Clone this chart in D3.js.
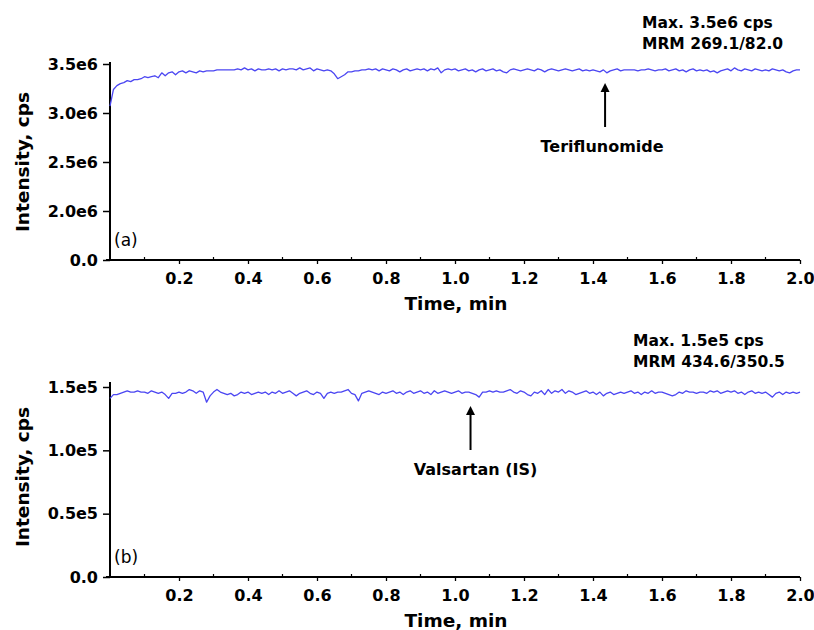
<!DOCTYPE html>
<html>
<head>
<meta charset="utf-8">
<script src="https://cdn.jsdelivr.net/npm/d3@7"></script>
<style>
  body { margin: 0; background: #fff; }
  svg { display: block; }
  text { font-family: "DejaVu Sans", Verdana, sans-serif; }
</style>
</head>
<body>
<svg id="chart" width="814" height="630"></svg>
<script>
// ---------------- DATA ----------------
// Sampling grid (min): 0.00 .. 2.00 every 0.01 min
const sampleTimes = d3.range(201).map(i => i / 100);

// Panel (a): Teriflunomide, MRM 269.1/82.0, intensity in units of 1e6 cps
const intensityA = [
  3.07,3.24,3.28,3.30,3.31,3.33,3.32,3.34,3.34,3.35,
  3.37,3.36,3.37,3.38,3.36,3.41,3.38,3.41,3.42,3.39,
  3.42,3.43,3.41,3.43,3.42,3.41,3.43,3.42,3.43,3.43,
  3.43,3.44,3.44,3.44,3.44,3.44,3.44,3.45,3.44,3.46,
  3.44,3.45,3.43,3.45,3.44,3.44,3.45,3.44,3.45,3.43,
  3.45,3.44,3.45,3.45,3.44,3.46,3.44,3.45,3.46,3.43,
  3.45,3.44,3.43,3.44,3.43,3.40,3.35,3.37,3.39,3.42,
  3.42,3.43,3.43,3.44,3.44,3.45,3.44,3.45,3.43,3.45,
  3.44,3.43,3.45,3.44,3.42,3.44,3.45,3.43,3.44,3.45,
  3.44,3.45,3.43,3.45,3.44,3.46,3.41,3.44,3.45,3.44,
  3.45,3.43,3.44,3.45,3.43,3.44,3.42,3.44,3.45,3.43,
  3.44,3.45,3.43,3.44,3.42,3.41,3.44,3.45,3.44,3.43,
  3.44,3.45,3.44,3.43,3.45,3.44,3.42,3.44,3.45,3.44,
  3.43,3.44,3.45,3.44,3.43,3.44,3.45,3.43,3.44,3.43,
  3.44,3.43,3.42,3.44,3.41,3.43,3.44,3.45,3.43,3.44,
  3.44,3.44,3.44,3.43,3.44,3.44,3.45,3.44,3.43,3.44,
  3.44,3.45,3.43,3.44,3.45,3.43,3.44,3.42,3.44,3.45,
  3.43,3.44,3.43,3.44,3.42,3.43,3.41,3.43,3.44,3.45,
  3.43,3.46,3.44,3.43,3.45,3.44,3.43,3.45,3.44,3.43,
  3.44,3.43,3.45,3.44,3.43,3.44,3.42,3.41,3.43,3.44,
  3.44
];

// Panel (b): Valsartan (IS), MRM 434.6/350.5, intensity in units of 1e5 cps
const intensityB = [
  1.41,1.44,1.44,1.45,1.46,1.47,1.46,1.46,1.47,1.46,
  1.46,1.45,1.47,1.46,1.45,1.46,1.44,1.41,1.45,1.45,
  1.46,1.45,1.46,1.48,1.47,1.45,1.47,1.46,1.38,1.43,
  1.46,1.48,1.46,1.45,1.44,1.45,1.43,1.44,1.46,1.45,
  1.46,1.44,1.45,1.46,1.45,1.46,1.44,1.46,1.45,1.47,
  1.45,1.46,1.47,1.45,1.43,1.45,1.46,1.47,1.45,1.44,
  1.46,1.45,1.41,1.45,1.46,1.45,1.46,1.46,1.47,1.48,
  1.45,1.44,1.39,1.45,1.46,1.47,1.46,1.45,1.44,1.46,
  1.45,1.46,1.47,1.45,1.46,1.44,1.46,1.47,1.45,1.46,
  1.47,1.45,1.46,1.44,1.47,1.45,1.46,1.47,1.46,1.45,
  1.46,1.47,1.45,1.46,1.46,1.45,1.44,1.42,1.46,1.46,
  1.47,1.46,1.47,1.46,1.46,1.47,1.48,1.46,1.45,1.47,
  1.46,1.44,1.43,1.46,1.45,1.47,1.44,1.48,1.45,1.47,
  1.46,1.48,1.45,1.47,1.46,1.44,1.45,1.46,1.47,1.45,
  1.46,1.44,1.46,1.43,1.45,1.46,1.44,1.45,1.46,1.45,
  1.46,1.47,1.45,1.46,1.44,1.46,1.45,1.47,1.45,1.46,
  1.46,1.45,1.44,1.43,1.44,1.46,1.45,1.47,1.46,1.46,
  1.45,1.46,1.46,1.45,1.47,1.46,1.47,1.45,1.46,1.47,
  1.46,1.47,1.45,1.46,1.44,1.46,1.47,1.45,1.46,1.45,
  1.46,1.44,1.42,1.45,1.46,1.44,1.46,1.45,1.46,1.45,
  1.46
];

// Tick values and labels
const xTickValues = [0.2,0.4,0.6,0.8,1.0,1.2,1.4,1.6,1.8,2.0];
const xTickLabels = ["0.2","0.4","0.6","0.8","1.0","1.2","1.4","1.6","1.8","2.0"];
const xMinorTicks = [0.1,0.3,0.5,0.7,0.9,1.1,1.3,1.5,1.7,1.9];

const yTickValuesA = [0, 2.0, 2.5, 3.0, 3.5];
const yTickLabelsA = ["0.0","2.0e6","2.5e6","3.0e6","3.5e6"];
const yTickValuesB = [0, 0.5, 1.0, 1.5];
const yTickLabelsB = ["0.0","0.5e5","1.0e5","1.5e5"];

const panelA = { tag: "(a)", compound: "Teriflunomide", arrowTime: 1.435,
                 maxText: "Max. 3.5e6 cps", mrmText: "MRM 269.1/82.0" };
const panelB = { tag: "(b)", compound: "Valsartan (IS)", arrowTime: 1.045,
                 maxText: "Max. 1.5e5 cps", mrmText: "MRM 434.6/350.5" };

// ---------------- DRAW ----------------
const svg = d3.select("#chart");
const lineColor = "#4b46f2";
const x0 = 110, x1 = 800;

function drawPanel(cfg) {
  const g = svg.append("g");
  const x = d3.scaleLinear().domain([0, 2]).range([x0, x1]);
  const y = cfg.y;

  // x axis
  const xAxis = d3.axisBottom(x)
    .tickValues(xTickValues)
    .tickFormat((d, i) => xTickLabels[i])
    .tickSize(4).tickSizeOuter(0).tickPadding(9);
  const gx = g.append("g").attr("transform", `translate(0,${cfg.baseY})`).call(xAxis);
  gx.select(".domain").remove();
  gx.append("line").attr("x1", x0 - 4).attr("x2", x1).attr("y1", 0).attr("y2", 0)
    .attr("stroke", "#000").attr("stroke-width", 2);
  gx.selectAll(".tick line").attr("stroke", "#000").attr("stroke-width", 1.3);
  gx.selectAll(".tick text").attr("fill", "#000")
    .style("font-size", "16px").style("font-weight", "bold");
  gx.selectAll(".minor").data(xMinorTicks).enter().append("line")
    .attr("x1", d => x(d)).attr("x2", d => x(d))
    .attr("y1", -3).attr("y2", 0)
    .attr("stroke", "#000").attr("stroke-width", 1.2);

  // y axis
  const yAxis = d3.axisLeft(y)
    .tickValues(cfg.yTicks)
    .tickFormat((d, i) => cfg.yLabels[i])
    .tickSize(7).tickSizeOuter(0).tickPadding(5);
  const gy = g.append("g").attr("transform", `translate(${x0},0)`).call(yAxis);
  gy.select(".domain").remove();
  gy.append("line").attr("x1", 0).attr("x2", 0).attr("y1", cfg.topY).attr("y2", cfg.baseY + 1)
    .attr("stroke", "#000").attr("stroke-width", 2);
  gy.selectAll(".tick line").attr("stroke", "#000").attr("stroke-width", 1.5);
  gy.selectAll(".tick text").attr("fill", "#000")
    .style("font-size", "16px").style("font-weight", "bold");

  // trace
  const line = d3.line().x((d, i) => x(sampleTimes[i])).y(d => y(d));
  g.append("path").datum(cfg.values)
    .attr("d", line).attr("fill", "none")
    .attr("stroke", lineColor).attr("stroke-width", 1.3)
    .attr("stroke-linejoin", "round");

  // axis titles
  g.append("text").attr("x", (x0 + x1) / 2 + 1).attr("y", cfg.baseY + 50)
    .attr("text-anchor", "middle").style("font-size", "18.5px").style("font-weight", "bold")
    .text("Time, min");
  g.append("text")
    .attr("transform", `translate(29,${cfg.titleY}) rotate(-90)`)
    .attr("text-anchor", "middle").style("font-size", "18.5px").style("font-weight", "bold")
    .text("Intensity, cps");

  // panel tag
  g.append("text").attr("x", 114).attr("y", cfg.baseY - 14)
    .style("font-size", "17px").text(cfg.p.tag);

  // max / mrm texts
  g.append("text").attr("x", cfg.infoX).attr("y", cfg.infoY)
    .style("font-size", "15.5px").style("font-weight", "bold").text(cfg.p.maxText);
  g.append("text").attr("x", cfg.infoX).attr("y", cfg.infoY + 21)
    .style("font-size", "15.5px").style("font-weight", "bold").text(cfg.p.mrmText);

  // arrow + compound label
  const ax = x(cfg.p.arrowTime);
  g.append("line").attr("x1", ax).attr("x2", ax)
    .attr("y1", cfg.arrowTip + 6).attr("y2", cfg.arrowTip + 44)
    .attr("stroke", "#000").attr("stroke-width", 2);
  g.append("path")
    .attr("d", `M${ax},${cfg.arrowTip} L${ax - 4.5},${cfg.arrowTip + 9} L${ax + 4.5},${cfg.arrowTip + 9} Z`)
    .attr("fill", "#000");
  g.append("text").attr("x", ax + cfg.labelDx).attr("y", cfg.arrowTip + 69)
    .attr("text-anchor", "middle").style("font-size", "16px").style("font-weight", "bold")
    .text(cfg.p.compound);
}

drawPanel({
  p: panelA, values: intensityA,
  y: d3.scaleLinear().domain([0, 2.0, 3.5]).range([260, 211, 64]),
  yTicks: yTickValuesA, yLabels: yTickLabelsA,
  baseY: 260, topY: 62, titleY: 162,
  infoX: 642, infoY: 28, arrowTip: 83, labelDx: -3
});

drawPanel({
  p: panelB, values: intensityB,
  y: d3.scaleLinear().domain([0, 1.5]).range([577, 387]),
  yTicks: yTickValuesB, yLabels: yTickLabelsB,
  baseY: 577, topY: 382, titleY: 477,
  infoX: 633, infoY: 346, arrowTip: 406, labelDx: 5
});
</script>
</body>
</html>
